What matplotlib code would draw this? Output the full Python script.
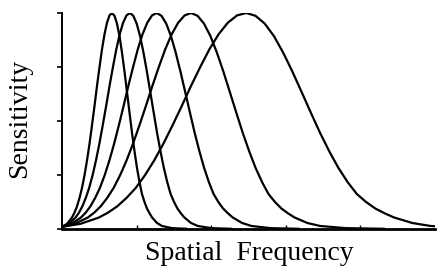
import matplotlib
matplotlib.use("Agg")
import matplotlib.pyplot as plt

# sensitivity values shared by the five channels (same tuning shape)
sensitivity = [0.01, 0.024, 0.053, 0.076, 0.105, 0.144, 0.19, 0.249, 0.317, 0.395,
               0.48, 0.57, 0.662, 0.75, 0.832, 0.902, 0.955, 0.989, 1.0, 0.987,
               0.951, 0.893, 0.817, 0.729, 0.635, 0.539, 0.446, 0.36, 0.283, 0.217,
               0.162, 0.125, 0.095, 0.073, 0.054, 0.028, 0.014, 0.004, 0.001]

# spatial frequency samples for each channel, narrow to broad
freq_1 = [0, .067, .134, .168, .201, .235, .268, .302, .335, .369,
          .402, .436, .469, .503, .536, .570, .603, .637, .67, .704,
          .737, .771, .804, .838, .871, .905, .938, .972, 1.005, 1.039,
          1.072, 1.106, 1.139, 1.173, 1.206, 1.273, 1.34, 1.474, 1.675]
freq_2 = [0, .091, .182, .228, .273, .319, .364, .410, .455, .501,
          .546, .592, .637, .683, .728, .774, .819, .865, .91, .956,
          1.001, 1.047, 1.092, 1.138, 1.183, 1.229, 1.274, 1.320, 1.365, 1.411,
          1.456, 1.502, 1.547, 1.593, 1.638, 1.729, 1.82, 2.002, 2.275]
freq_3 = [0, .127, .254, .318, .381, .445, .508, .572, .635, .699,
          .762, .826, .889, .953, 1.016, 1.080, 1.143, 1.207, 1.27, 1.334,
          1.397, 1.461, 1.524, 1.588, 1.651, 1.715, 1.778, 1.842, 1.905, 1.969,
          2.032, 2.096, 2.159, 2.223, 2.286, 2.413, 2.54, 2.794, 3.175]
freq_4 = [0, .173, .346, .433, .519, .606, .692, .779, .865, .952,
          1.038, 1.125, 1.211, 1.298, 1.384, 1.471, 1.557, 1.644, 1.73, 1.817,
          1.903, 1.990, 2.076, 2.163, 2.249, 2.336, 2.422, 2.509, 2.595, 2.682,
          2.768, 2.855, 2.941, 3.028, 3.114, 3.287, 3.46, 3.806, 4.325]
freq_5 = [0, .247, .494, .618, .741, .865, .988, 1.112, 1.235, 1.359,
          1.482, 1.606, 1.729, 1.853, 1.976, 2.100, 2.223, 2.347, 2.47, 2.594,
          2.717, 2.841, 2.964, 3.088, 3.211, 3.335, 3.458, 3.582, 3.705, 3.829,
          3.952, 4.076, 4.199, 4.323, 4.446, 4.693, 4.94, 5.434, 6.175]

channels = [freq_1, freq_2, freq_3, freq_4, freq_5]
x_ticks = [1, 2, 3, 4]
y_ticks = [0, 0.25, 0.5, 0.75, 1.0]

plt.rcParams["font.family"] = ["Liberation Serif", "DejaVu Serif"]

fig = plt.figure(figsize=(4.47, 2.75), dpi=100)
ax = fig.add_axes([62 / 447, 46 / 275, 373 / 447, 216 / 275])

for f in channels:
    ax.plot(f, sensitivity, color="black", lw=1.6, solid_capstyle="round")

ax.set_xlim(0, 5)
ax.set_ylim(0, 1)
ax.set_xticks(x_ticks)
ax.set_yticks(y_ticks)
ax.set_xticklabels([])
ax.set_yticklabels([])
ax.tick_params(axis="x", direction="in", length=3, width=1.0)
ax.tick_params(axis="y", direction="out", length=3.5, width=1.2)

for side in ["top", "right"]:
    ax.spines[side].set_visible(False)
ax.spines["left"].set_linewidth(1.4)
ax.spines["bottom"].set_linewidth(2.0)

fig.text(20 / 447, 1 - 118 / 275, "Sensitivity", rotation=90,
         ha="center", va="center", fontsize=20)
fig.text(249 / 447, 15 / 275, "Spatial  Frequency",
         ha="center", va="baseline", fontsize=20)

fig.savefig("out.png", dpi=100)
